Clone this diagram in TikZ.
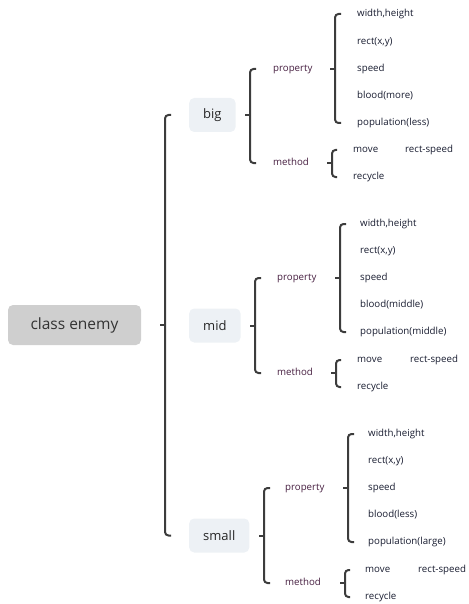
\documentclass[tikz,border=0pt]{standalone}
\usepackage{fontspec}
\setmainfont{Open Sans}
\usetikzlibrary{positioning,calc}
\definecolor{rootgray}{RGB}{207,207,207}
\definecolor{boxblue}{RGB}{237,241,245}
\definecolor{linegray}{RGB}{60,60,60}
\definecolor{subcol}{RGB}{70,30,64}
\definecolor{leafcol}{RGB}{24,28,48}
\newcommand{\grp}[5]{% parent, first, last, spine x, hook
  \coordinate (sp) at (#4,0);
  \draw[brc] (sp |- #2.west) ++(#5,0) -- (sp |- #2.west) -- (sp |- #3.west) -- ++(#5,0);
  \draw[brc] (sp |- #1.east) -- ++(-5,0);
}
\tikzset{
  rootbox/.style={fill=rootgray, rounded corners=5pt, minimum width=133pt, minimum height=40pt,
    font=\fontsize{15.5}{17}\selectfont, text=black!80},
  catbox/.style={anchor=west, fill=boxblue, rounded corners=5pt, minimum height=34pt, inner xsep=14pt,
    font=\fontsize{13}{15}\selectfont, text=black!85},
  sublab/.style={anchor=west, inner sep=0pt, text height=7pt, text depth=2pt,
    font=\fontsize{9.7}{11}\selectfont, text=subcol},
  leaf/.style={anchor=west, inner sep=0pt, text height=7pt, text depth=2pt,
    font=\fontsize{9.7}{11}\selectfont, text=leafcol},
  brc/.style={draw=linegray, line width=2pt, rounded corners=3.5pt},
}
\begin{document}
\begin{tikzpicture}[x=1pt, y=-1pt]
  \useasboundingbox (0,0) rectangle (468,604);
  % root and categories
  \node[rootbox] (root) at (74.5,325) {class enemy};
  \node[catbox] (big) at (189,115) {big};
  \node[catbox] (mid) at (189,325.5) {mid};
  \node[catbox] (small) at (189,535.5) {small};
  \grp{root}{big}{small}{165}{6}
  % big
  \node[sublab] (bigP) at (273,69) {property};
  \node[sublab] (bigM) at (273,163) {method};
  \grp{big}{bigP}{bigM}{250}{6}
  \node[leaf] (bigP1) at (357,14) {width,height};
  \node[leaf] (bigP2) at (357,42) {rect(x,y)};
  \node[leaf] (bigP3) at (357,69) {speed};
  \node[leaf] (bigP4) at (357,96) {blood(more)};
  \node[leaf] (bigP5) at (357,123) {population(less)};
  \grp{bigP}{bigP1}{bigP5}{335}{6}
  \node[leaf] (bigM1) at (353,150) {move};
  \node[leaf] (bigM2) at (405,150) {rect-speed};
  \node[leaf] (bigM3) at (353,177) {recycle};
  \grp{bigM}{bigM1}{bigM3}{332}{5}
  % mid
  \node[sublab] (midP) at (277,278) {property};
  \node[sublab] (midM) at (277,373) {method};
  \grp{mid}{midP}{midM}{255}{6}
  \node[leaf] (midP1) at (360,224) {width,height};
  \node[leaf] (midP2) at (360,251) {rect(x,y)};
  \node[leaf] (midP3) at (360,278) {speed};
  \node[leaf] (midP4) at (360,305) {blood(middle)};
  \node[leaf] (midP5) at (360,332) {population(middle)};
  \grp{midP}{midP1}{midP5}{340}{6}
  \node[leaf] (midM1) at (357,360) {move};
  \node[leaf] (midM2) at (410,360) {rect-speed};
  \node[leaf] (midM3) at (357,387) {recycle};
  \grp{midM}{midM1}{midM3}{336}{5}
  % small
  \node[sublab] (smallP) at (285,488) {property};
  \node[sublab] (smallM) at (285,583) {method};
  \grp{small}{smallP}{smallM}{264}{6}
  \node[leaf] (smallP1) at (368,434) {width,height};
  \node[leaf] (smallP2) at (368,461) {rect(x,y)};
  \node[leaf] (smallP3) at (368,488) {speed};
  \node[leaf] (smallP4) at (368,515) {blood(less)};
  \node[leaf] (smallP5) at (368,542) {population(large)};
  \grp{smallP}{smallP1}{smallP5}{348}{6}
  \node[leaf] (smallM1) at (365,570) {move};
  \node[leaf] (smallM2) at (418,570) {rect-speed};
  \node[leaf] (smallM3) at (365,597) {recycle};
  \grp{smallM}{smallM1}{smallM3}{345}{5}
\end{tikzpicture}
\end{document}
